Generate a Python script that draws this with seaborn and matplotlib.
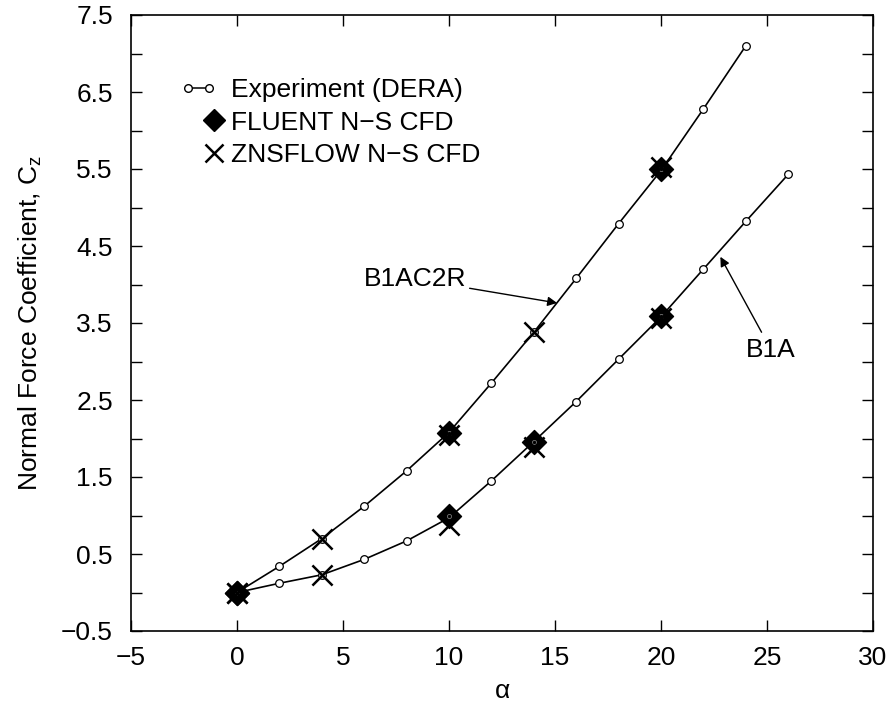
import matplotlib
matplotlib.use("Agg")
import matplotlib.pyplot as plt
from matplotlib.lines import Line2D
from matplotlib.legend_handler import HandlerLine2D
import numpy as np
import pandas as pd
import seaborn as sns

# experiment (DERA)
b1ac2r_alpha = [0, 2, 4, 6, 8, 10, 12, 14, 16, 18, 20, 22, 24]
b1ac2r_cz = [0.0, 0.34, 0.70, 1.12, 1.58, 2.08, 2.72, 3.38, 4.08, 4.79, 5.48, 6.28, 7.10]
b1a_alpha = [0, 2, 4, 6, 8, 10, 12, 14, 16, 18, 20, 22, 24, 26]
b1a_cz = [0.0, 0.12, 0.23, 0.43, 0.67, 0.97, 1.45, 1.96, 2.48, 3.03, 3.58, 4.20, 4.82, 5.43]

# FLUENT N-S CFD
fluent_alpha = [0, 10, 20, 0, 10, 14, 20]
fluent_cz = [0.0, 2.07, 5.50, 0.0, 0.99, 1.95, 3.59]

# ZNSFLOW N-S CFD
zns_alpha = [0, 4, 10, 14, 20, 0, 4, 10, 14, 20]
zns_cz = [0.0, 0.70, 2.04, 3.38, 5.52, 0.0, 0.23, 0.88, 1.89, 3.56]

exp = pd.concat([
    pd.DataFrame({"alpha": b1ac2r_alpha, "cz": b1ac2r_cz, "config": "B1AC2R"}),
    pd.DataFrame({"alpha": b1a_alpha, "cz": b1a_cz, "config": "B1A"}),
])
fluent = pd.DataFrame({"alpha": fluent_alpha, "cz": fluent_cz})
zns = pd.DataFrame({"alpha": zns_alpha, "cz": zns_cz})

sns.set_style("ticks")
plt.rcParams["font.family"] = ["Liberation Sans", "DejaVu Sans"]
plt.rcParams["mathtext.fontset"] = "custom"
plt.rcParams["mathtext.rm"] = "Liberation Sans"
plt.rcParams["mathtext.it"] = "Liberation Sans"
for k in ["text.color", "axes.labelcolor", "xtick.color", "ytick.color", "axes.edgecolor"]:
    plt.rcParams[k] = "black"


class RightMarker(HandlerLine2D):
    # single marker pushed to the right end of the handle, like the original
    def create_artists(self, legend, orig_handle, xdescent, ydescent, width, height, fontsize, trans):
        arts = super().create_artists(legend, orig_handle, xdescent, ydescent,
                                      width, height, fontsize, trans)
        for a in arts:
            a.set_xdata(np.asarray(a.get_xdata()) + 0.42 * width)
        return arts


fig = plt.figure(figsize=(8.92, 7.03), dpi=100)
ax = fig.add_axes([131 / 892, 72 / 703, 742 / 892, 616 / 703])

sns.lineplot(data=exp, x="alpha", y="cz", units="config", estimator=None,
             color="black", lw=1.2, marker="o", markersize=5.5,
             markerfacecolor="white", markeredgecolor="black",
             markeredgewidth=0.9, ax=ax, legend=False, sort=False)
sns.scatterplot(data=fluent, x="alpha", y="cz", marker="D", s=150,
                color="black", edgecolor="black", ax=ax, legend=False, zorder=4)
ax.plot(fluent_alpha, fluent_cz, "o", ms=3, mfc="none", mec="#777777",
        mew=0.6, zorder=5)
sns.scatterplot(data=zns, x="alpha", y="cz", marker="x", s=210,
                color="black", linewidth=1.8, ax=ax, legend=False, zorder=5)

ax.set_xlim(-5, 30)
ax.set_ylim(-0.5, 7.5)
ax.set_xticks(np.arange(-5, 31, 5))
ax.set_yticks(np.arange(-0.5, 7.6, 1.0))
ax.set_yticks(np.arange(0, 7.1, 1.0), minor=True)
ax.set_yticklabels(["\u22120.5" if v < 0 else f"{v:.1f}" for v in np.arange(-0.5, 7.6, 1.0)])
ax.set_xticklabels(["\u22125" if v < 0 else str(v) for v in range(-5, 31, 5)])
ax.tick_params(which="both", direction="in", top=True, right=True,
               length=8, width=1, labelsize=19)
ax.tick_params(axis="y", which="both", pad=13)
ax.tick_params(axis="x", which="both", pad=11)
for s in ax.spines.values():
    s.set_linewidth(1.2)

ax.set_xlabel("\u03b1", fontsize=19, labelpad=6)
ax.set_ylabel("Normal Force Coefficient, C$_\\mathrm{z}$", fontsize=19, labelpad=12)

ax.annotate("B1AC2R", xy=(15.1, 3.76), xytext=(8.4, 4.07), fontsize=19,
            ha="center", va="center",
            arrowprops=dict(arrowstyle="-|>", color="black", lw=1,
                            shrinkA=0, shrinkB=0, mutation_scale=14))
ax.annotate("B1A", xy=(22.8, 4.36), xytext=(25.2, 3.15), fontsize=19,
            ha="center", va="center",
            arrowprops=dict(arrowstyle="-|>", color="black", lw=1,
                            shrinkA=2, shrinkB=0, mutation_scale=14))

h_exp = Line2D([], [], color="black", lw=1.1, marker="o", ms=5.5,
               mfc="white", mec="black")
h_flu = Line2D([], [], ls="none", marker="D", ms=11, color="black")
h_zns = Line2D([], [], ls="none", marker="x", ms=13, mew=1.8, color="black")
ax.legend([h_exp, h_flu, h_zns],
          ["Experiment (DERA)", "FLUENT N\u2212S CFD", "ZNSFLOW N\u2212S CFD"],
          loc="upper left", bbox_to_anchor=(49 / 742, (616 - 63) / 616),
          frameon=False, fontsize=19, numpoints=2, handlelength=1.4,
          handletextpad=0.55, labelspacing=0.33, borderpad=0, borderaxespad=0,
          handler_map={h_flu: RightMarker(numpoints=1),
                       h_zns: RightMarker(numpoints=1)})

fig.savefig("out.png", dpi=100)
